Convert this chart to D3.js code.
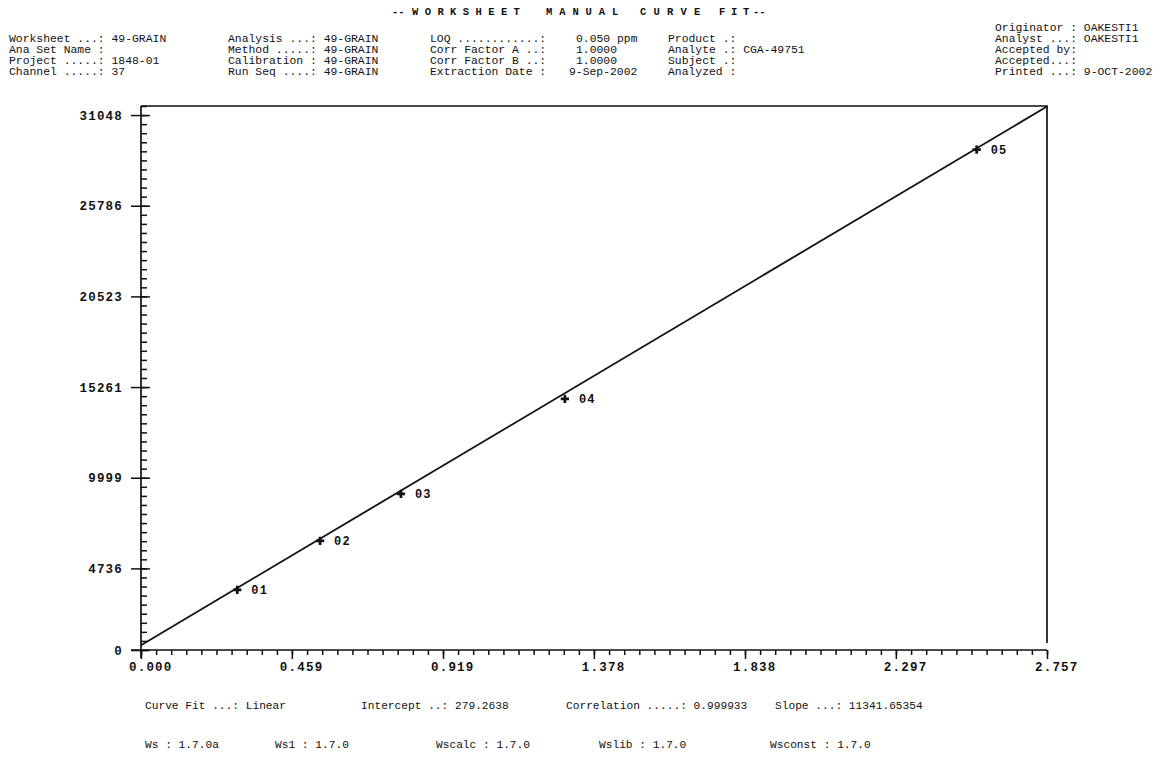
<!DOCTYPE html>
<html>
<head>
<meta charset="utf-8">
<script src="https://cdn.jsdelivr.net/npm/d3@7"></script>
<style>
  html, body { margin: 0; padding: 0; background: #fff; }
  svg { display: block; }
  .hdr { font-family: "Liberation Mono", "DejaVu Sans Mono", monospace; font-size: 11.4px; fill: #111; }
  .ttl { font-family: "Liberation Mono", monospace; font-size: 10.5px; font-weight: bold; fill: #111; }
  .tick text { font-family: "Liberation Mono", monospace; font-size: 12.5px; font-weight: bold; fill: #111; letter-spacing: 1.2px; }
  .plbl { font-family: "Liberation Mono", monospace; font-size: 12px; font-weight: bold; fill: #111; letter-spacing: 1.2px; }
  .ftr { font-family: "Liberation Mono", monospace; font-size: 11.2px; fill: #111; }
</style>
</head>
<body>
<svg id="chart" width="1170" height="770"></svg>
<script>
// ---------------- data ----------------
const xTickLabels = ["0.000", "0.459", "0.919", "1.378", "1.838", "2.297", "2.757"];
const yTickLabels = ["0", "4736", "9999", "15261", "20523", "25786", "31048"];
const xMax = 2.757;
const yMax = 31574;
const pointIds = ["01", "02", "03", "04", "05"];
const pointX = [0.293, 0.545, 0.791, 1.290, 2.543];
const pointY = [3486, 6332, 9063, 14582, 29048];
const fitIntercept = 279.2638;
const fitSlope = 11341.65354;

const titleWords = ["--", "WORKSHEET", "MANUAL", "CURVE", "FIT", "--"];
const headerCol1 = ["Worksheet ...: 49-GRAIN", "Ana Set Name :", "Project .....: 1848-01", "Channel .....: 37"];
const headerCol2 = ["Analysis ...: 49-GRAIN", "Method .....: 49-GRAIN", "Calibration : 49-GRAIN", "Run Seq ....: 49-GRAIN"];
const headerCol3Labels = ["LOQ ............:", "Corr Factor A ..:", "Corr Factor B ..:", "Extraction Date :"];
const headerCol3Values = ["0.050 ppm", "1.0000", "1.0000", "9-Sep-2002"];
const headerCol4 = ["Product .:", "Analyte .: CGA-49751", "Subject .:", "Analyzed :"];
const headerCol5 = ["Originator : OAKESTI1", "Analyst ...: OAKESTI1", "Accepted by:", "Accepted...:", "Printed ...:  9-OCT-2002"];
const footerRow1 = ["Curve Fit ...: Linear", "Intercept ..: 279.2638", "Correlation .....: 0.999933", "Slope ...: 11341.65354"];
const footerRow2 = ["Ws : 1.7.0a", "Ws1 : 1.7.0", "Wscalc : 1.7.0", "Wslib : 1.7.0", "Wsconst : 1.7.0"];

// ---------------- layout ----------------
const L = 141, R = 1047, T = 106, B = 650;
const svg = d3.select("#chart");

// title: each letter placed individually (spaced-out letters)
const titleX = [392, 412, 546, 640, 719, 753];
const titlePitch = [6.2, 12.7, 13.2, 13.5, 12, 6.2];
const titleChars = [];
titleWords.forEach((w, wi) => {
  w.split("").forEach((c, ci) => titleChars.push({ c, x: titleX[wi] + ci * titlePitch[wi] }));
});
svg.append("g").selectAll("text").data(titleChars).join("text")
  .attr("class", "ttl")
  .attr("x", d => d.x).attr("y", 15)
  .text(d => d.c);

// header columns
function column(lines, x, y0, dy) {
  svg.append("g").selectAll("text").data(lines).join("text")
    .attr("class", "hdr")
    .attr("x", x).attr("y", (d, i) => y0 + i * dy)
    .text(d => d);
}
column(headerCol1, 9, 42, 11);
column(headerCol2, 228, 42, 11);
column(headerCol3Labels, 430, 42, 11);
svg.append("g").selectAll("text").data(headerCol3Values).join("text")
  .attr("class", "hdr")
  .attr("x", (d, i) => i === 3 ? 569 : 576)
  .attr("y", (d, i) => 42 + i * 11)
  .text(d => d);
column(headerCol4, 668, 42, 11);
column(headerCol5, 995, 31, 11);

// scales
const x = d3.scaleLinear().domain([0, xMax]).range([L, R]);
const y = d3.scaleLinear().domain([0, yMax]).range([B, T]);

const xMajor = xTickLabels.map(Number);
const yMajor = yTickLabels.map(Number);
const xMinor = d3.range(0, 61).map(i => i * xMax / 60);
const yMinor = d3.range(0, 61).map(i => i * yMax / 60);

// frame (top + right)
svg.append("path")
  .attr("d", `M${L},${T}H${R}V${B - 7}`)
  .attr("fill", "none").attr("stroke", "#111").attr("stroke-width", 1.7);

// y axis minor ticks (inward)
const yMinorAxis = svg.append("g").attr("transform", `translate(${L},0)`)
  .call(d3.axisRight(y).tickValues(yMinor).tickSize(6).tickFormat(""));
yMinorAxis.select(".domain").remove();
// y axis major ticks (crossing)
const yMajorIn = svg.append("g").attr("transform", `translate(${L},0)`)
  .call(d3.axisRight(y).tickValues(yMajor).tickSize(9).tickFormat(""));
yMajorIn.select(".domain").remove();
const yAxis = svg.append("g").attr("transform", `translate(${L},0)`)
  .call(d3.axisLeft(y).tickValues(yMajor).tickSize(10).tickPadding(8).tickFormat((d, i) => yTickLabels[i]));
yAxis.select(".domain").attr("d", `M0,${T}V${B + 8}`);
yAxis.selectAll("text").attr("dy", "0.32em");

// x axis
const xMinorAxis = svg.append("g").attr("transform", `translate(0,${B})`)
  .call(d3.axisBottom(x).tickValues(xMinor).tickSize(5).tickFormat(""));
xMinorAxis.select(".domain").remove();
const xAxis = svg.append("g").attr("transform", `translate(0,${B})`)
  .call(d3.axisBottom(x).tickValues(xMajor).tickSize(9).tickPadding(5).tickFormat((d, i) => xTickLabels[i]));
xAxis.select(".domain").attr("d", `M${L - 10},0H${R}`);
xAxis.selectAll("text").attr("text-anchor", "start").attr("dx", -12.5).attr("dy", "0.55em");

svg.selectAll(".tick line").attr("stroke", "#111").attr("stroke-width", 1.5);
svg.selectAll(".domain").attr("stroke", "#111").attr("stroke-width", 1.7);

// fit line
const fitLine = d3.line().x(d => x(d)).y(d => y(fitIntercept + fitSlope * d));
svg.append("path").datum([0, xMax])
  .attr("d", fitLine)
  .attr("fill", "none").attr("stroke", "#111").attr("stroke-width", 1.8);

// points
const pts = pointIds.map((id, i) => ({ id, x: pointX[i], y: pointY[i] }));
const sym = d3.symbol().type(d3.symbolCross).size(38);
svg.append("g").selectAll("path").data(pts).join("path")
  .attr("transform", d => `translate(${x(d.x)},${y(d.y)})`)
  .attr("d", sym)
  .attr("fill", "#111");
svg.append("g").selectAll("text").data(pts).join("text")
  .attr("class", "plbl")
  .attr("x", d => x(d.x) + 14).attr("y", d => y(d.y) + 4.5)
  .text(d => d.id);

// footer
const footer1X = [145, 361, 566, 775];
const footer2X = [145, 275, 436, 599, 770];
svg.append("g").selectAll("text").data(footerRow1).join("text")
  .attr("class", "ftr").attr("x", (d, i) => footer1X[i]).attr("y", 709).text(d => d);
svg.append("g").selectAll("text").data(footerRow2).join("text")
  .attr("class", "ftr").attr("x", (d, i) => footer2X[i]).attr("y", 748).text(d => d);
</script>
</body>
</html>
